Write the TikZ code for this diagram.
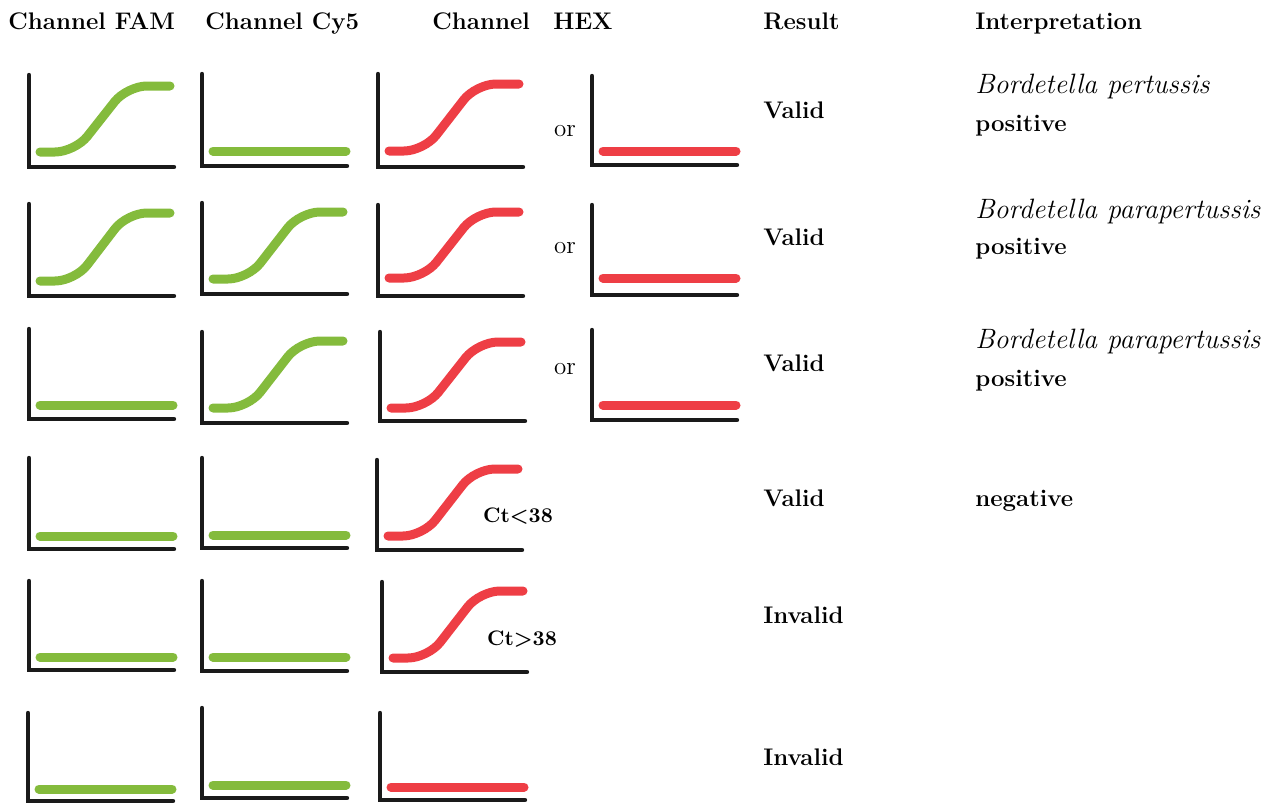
\documentclass[tikz,border=0pt]{standalone}
\usepackage{xcolor}
\usetikzlibrary{positioning}

\definecolor{fam}{HTML}{84BB3C}
\definecolor{hexred}{HTML}{EE3E45}
\definecolor{axisblack}{HTML}{1A1A1A}

\tikzset{
  axis/.style={axisblack, line width=2.2pt, line cap=round},
  curve/.style={line width=4.5pt, line cap=round},
  head/.style={anchor=base west, inner sep=0pt, font=\fontsize{12}{14}\selectfont\bfseries},
  txt/.style={anchor=base west, inner sep=0pt, font=\fontsize{12}{14}\selectfont\bfseries},
  cttxt/.style={anchor=base, inner sep=0pt, font=\fontsize{10.5}{12}\selectfont\bfseries},
  species/.style={anchor=base west, inner sep=0pt, font=\fontsize{14}{16}\selectfont\itshape},
  ortxt/.style={anchor=base, inner sep=0pt, font=\fontsize{12.5}{14}\selectfont},
}

% axes: x, top, bottom
\newcommand{\plotaxes}[3]{\draw[axis] (#1,#2) -- (#1,#3) -- (#1+145,#3);}
% flat curve: x, level, colour
\newcommand{\flatcurve}[3]{\draw[curve,#3] (#1+11,#2) -- (#1+144,#2);}
% sigmoid curve: x, base, plateau, colour
\newcommand{\sigcurve}[4]{\draw[curve,#4,rounded corners=10pt] (#1+11,#2) -- (#1+46,#2) -- (#1+98,#3) -- (#1+141,#3);}

\begin{document}
\begin{tikzpicture}[x=0.5pt,y=-0.5pt]
\useasboundingbox (0,0) rectangle (1271,803);

% headers
\node[head] (hfam) at (8,30) {Channel FAM};
\node[head] (hcy) at (205,30) {Channel Cy5};
\node[head] (hch) at (432,30) {Channel};
\node[head] (hhex) at (553,30) {HEX};
\node[head] (hres) at (763,30) {Result};
\node[head] (hint) at (975,30) {Interpretation};

% row 1
\plotaxes{29}{75}{167} \sigcurve{29}{152}{86}{fam}
\plotaxes{202}{74}{166} \flatcurve{202}{151}{fam}
\plotaxes{378}{74}{167} \sigcurve{378}{151}{84}{hexred}
\node[ortxt] (or1) at (565,136) {or};
\plotaxes{592}{76}{165} \flatcurve{592}{151}{hexred}

% row 2
\plotaxes{29}{204}{296} \sigcurve{29}{281}{213}{fam}
\plotaxes{202}{203}{294} \sigcurve{202}{279}{212}{fam}
\plotaxes{378}{205}{296} \sigcurve{378}{278}{212}{hexred}
\node[ortxt] (or2) at (565,253) {or};
\plotaxes{592}{205}{295} \flatcurve{592}{278}{hexred}

% row 3
\plotaxes{29}{329}{419} \flatcurve{29}{405}{fam}
\plotaxes{202}{332}{423} \sigcurve{202}{408}{341}{fam}
\plotaxes{380}{332}{421} \sigcurve{380}{408}{342}{hexred}
\node[ortxt] (or3) at (565,374) {or};
\plotaxes{592}{330}{420} \flatcurve{592}{405}{hexred}

% row 4
\plotaxes{29}{458}{549} \flatcurve{29}{536}{fam}
\plotaxes{202}{458}{548} \flatcurve{202}{535}{fam}
\plotaxes{377}{460}{550} \sigcurve{377}{536}{469}{hexred}
\node[cttxt] (ct1) at (518,522) {Ct<38};

% row 5
\plotaxes{29}{581}{670} \flatcurve{29}{657}{fam}
\plotaxes{202}{581}{671} \flatcurve{202}{657}{fam}
\plotaxes{382}{582}{672} \sigcurve{382}{658}{591}{hexred}
\node[cttxt] (ct2) at (522,645) {Ct>38};

% row 6
\plotaxes{28}{713}{801} \flatcurve{28}{789}{fam}
\plotaxes{202}{708}{798} \flatcurve{202}{785}{fam}
\plotaxes{380}{713}{800} \flatcurve{380}{787}{hexred}

% results
\node[txt] (res1) at (763,118) {Valid};
\node[txt] (res2) at (763,245) {Valid};
\node[txt] (res3) at (763,371) {Valid};
\node[txt] (res4) at (763,506) {Valid};
\node[txt] (res5) at (763,623) {Invalid};
\node[txt] (res6) at (763,765) {Invalid};

% interpretation
\node[species] (sp1) at (975,93) {Bordetella pertussis};
\node[txt] (pos1) at (975,131) {positive};
\node[species] (sp2) at (975,218) {Bordetella parapertussis};
\node[txt] (pos2) at (975,254) {positive};
\node[species] (sp3) at (975,348) {Bordetella parapertussis};
\node[txt] (pos3) at (975,386) {positive};
\node[txt] (neg4) at (975,506) {negative};

\end{tikzpicture}
\end{document}
